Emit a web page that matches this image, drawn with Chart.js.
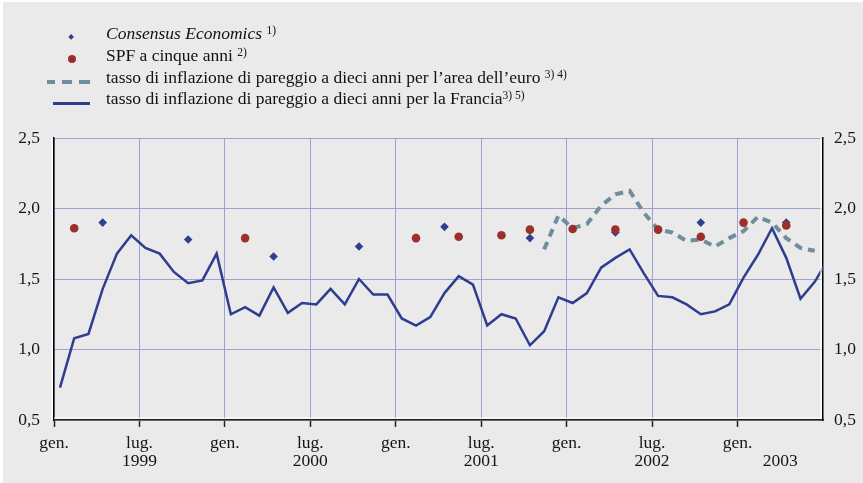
<!DOCTYPE html>
<html>
<head>
<meta charset="utf-8">
<script src="https://cdn.jsdelivr.net/npm/chart.js@4.4.0/dist/chart.umd.min.js"></script>
<style>
html,body{margin:0;padding:0;background:#fff;}
#wrap{position:relative;width:863px;height:483px;background:#eaeaea;overflow:hidden;}
#fTop{position:absolute;left:0;top:0;width:863px;height:1.5px;background:#fff;}
#fLeft{position:absolute;left:0;top:0;width:3px;height:483px;background:#fff;}
#c{position:absolute;left:0;top:0;}
.leg{position:absolute;left:106px;font-family:"Liberation Serif","Times New Roman",serif;font-size:17.5px;line-height:21.7px;color:#111;white-space:nowrap;}
.leg sup{font-size:11.5px;vertical-align:5px;line-height:0;}
.mk{position:absolute;}
</style>
</head>
<body>
<div id="wrap">
  <div id="fTop"></div><div id="fLeft"></div>
  <canvas id="c" width="863" height="483"></canvas>
  <div class="mk" style="left:69.4px;top:34.9px;width:4.3px;height:4.3px;background:#2f3f92;transform:rotate(45deg);"></div>
  <div class="mk" style="left:68px;top:55.3px;width:8px;height:8px;border-radius:50%;background:#9a3029;"></div>
  <div class="mk" style="left:47px;top:80px;width:8px;height:4px;background:#6e8e9b;"></div>
  <div class="mk" style="left:62px;top:80px;width:10px;height:4px;background:#6e8e9b;"></div>
  <div class="mk" style="left:79px;top:80px;width:11px;height:4px;background:#6e8e9b;"></div>
  <div class="mk" style="left:53px;top:102px;width:37px;height:2.6px;background:#2e3d8f;"></div>
  <div class="leg" style="top:23.3px"><i>Consensus Economics</i> <sup>1)</sup></div>
  <div class="leg" style="top:45px">SPF a cinque anni <sup>2)</sup></div>
  <div class="leg" style="top:66.7px">tasso di inflazione di pareggio a dieci anni per l’area dell’euro <sup>3) 4)</sup></div>
  <div class="leg" style="top:88.4px">tasso di inflazione di pareggio a dieci anni per la Francia<sup>3) 5)</sup></div>
</div>
<script>
// ---- DATA ----
const startYear = 1999;
// monthly values, Jan 1999 .. Jul 2003 (index = months since Jan 1999)
const franciaBreakeven = [
  0.73, 1.08, 1.11, 1.43, 1.68, 1.81, 1.72, 1.68, 1.55, 1.47, 1.49, 1.68,
  1.25, 1.30, 1.24, 1.44, 1.26, 1.33, 1.32, 1.43, 1.32, 1.50, 1.39, 1.39,
  1.22, 1.17, 1.23, 1.40, 1.52, 1.46, 1.17, 1.25, 1.22, 1.03, 1.13, 1.37,
  1.33, 1.40, 1.58, 1.65, 1.71, 1.54, 1.38, 1.37, 1.32, 1.25, 1.27, 1.32,
  1.51, 1.67, 1.86, 1.65, 1.36, 1.48, 1.65
];
const euroAreaStartMonth = 34;
const euroAreaBreakeven = [
  1.71, 1.95, 1.86, 1.89, 2.02, 2.10, 2.125, 1.97, 1.85, 1.83,
  1.77, 1.78, 1.73, 1.79, 1.84, 1.94, 1.90, 1.79, 1.72, 1.70
];
const consensusMonths = [3, 9, 15, 21, 27, 33, 39, 45, 51];
const consensusValues = [1.90, 1.78, 1.66, 1.73, 1.87, 1.79, 1.83, 1.90, 1.90];
const spfMonths = [1, 13, 25, 28, 31, 33, 36, 39, 42, 45, 48, 51];
const spfValues = [1.86, 1.79, 1.79, 1.80, 1.81, 1.85, 1.855, 1.85, 1.85, 1.80, 1.90, 1.88];
const yTicks = [0.5, 1.0, 1.5, 2.0, 2.5];
const xTickMonths = [0, 6, 12, 18, 24, 30, 36, 42, 48];
const yearLabels = ['1999', '2000', '2001', '2002', '2003'];
const yearLabelMonths = [6, 18, 30, 42, 51];
const monthNames = { 0: 'gen.', 6: 'lug.' };
const midMonth = 0.42;

// ---- CHART ----
const gridColor = '#a0a0d2';
const tickFont = { family: '"Liberation Serif", "Times New Roman", serif', size: 17.5, lineHeight: 1.0 };
const allXTicks = [...xTickMonths, ...yearLabelMonths.filter(m => !xTickMonths.includes(m))];

function xLabel(v) {
  const yi = yearLabelMonths.indexOf(v);
  const name = xTickMonths.includes(v) ? monthNames[v % 12] : '';
  if (yi >= 0) return [name, yearLabels[yi]];
  return name;
}
const fmt = v => v.toFixed(1).replace('.', ',');

const edgePlugin = {
  id: 'edges',
  afterDraw(chart) {
    const { ctx, chartArea: a } = chart;
    ctx.save();
    ctx.strokeStyle = '#ffffff';
    ctx.lineWidth = 1.2;
    ctx.beginPath();
    ctx.moveTo(a.left - 2, a.top); ctx.lineTo(a.left - 2, a.bottom);
    ctx.moveTo(a.right - 2, a.top); ctx.lineTo(a.right - 2, a.bottom - 1);
    ctx.moveTo(a.left, a.bottom - 2); ctx.lineTo(a.right - 2, a.bottom - 2);
    ctx.stroke();
    ctx.restore();
  }
};

new Chart(document.getElementById('c'), {
  data: {
    datasets: [
      {
        type: 'scatter', label: 'SPF a cinque anni',
        data: spfMonths.map((m, k) => ({ x: m + midMonth, y: spfValues[k] })),
        pointStyle: 'circle', pointRadius: 4.3, backgroundColor: '#9a3029', borderWidth: 0, order: 0
      },
      {
        type: 'scatter', label: 'Consensus Economics',
        data: consensusMonths.map((m, k) => ({ x: m + midMonth, y: consensusValues[k] })),
        pointStyle: 'rectRot', pointRadius: 4.3, backgroundColor: '#2f3f92', borderWidth: 0, order: 1
      },
      {
        type: 'line', label: 'area euro',
        data: euroAreaBreakeven.map((v, k) => ({ x: euroAreaStartMonth + k + midMonth, y: v })),
        borderColor: '#6e8e9b', borderWidth: 4, borderDash: [8, 6], pointRadius: 0, tension: 0, order: 2, clip: 0
      },
      {
        type: 'line', label: 'Francia',
        data: franciaBreakeven.map((v, k) => ({ x: k + midMonth, y: v })),
        borderColor: '#2e3d8f', borderWidth: 2.5, pointRadius: 0, tension: 0, order: 3, clip: 0
      }
    ]
  },
  options: {
    responsive: false, animation: false, devicePixelRatio: 1,
    layout: { padding: { top: 138, left: 0, right: 0, bottom: 0 } },
    plugins: { legend: { display: false }, tooltip: { enabled: false } },
    scales: {
      x: {
        type: 'linear', min: 0, max: 54,
        afterBuildTicks: s => { s.ticks = allXTicks.map(v => ({ value: v })); },
        afterFit: s => { s.height = 63; },
        ticks: { callback: v => xLabel(v), autoSkip: false, maxRotation: 0, font: tickFont, color: '#151515', padding: 8 },
        grid: {
          color: c => (c.tick && xTickMonths.includes(c.tick.value)) ? gridColor : 'rgba(0,0,0,0)',
          lineWidth: 1, drawTicks: true, tickLength: 7, tickWidth: 1.5,
          tickColor: c => (c.tick && xTickMonths.includes(c.tick.value)) ? '#222' : 'rgba(0,0,0,0)'
        },
        border: { display: true, color: '#222', width: 1.5 }
      },
      y: {
        position: 'left', min: 0.5, max: 2.5,
        afterBuildTicks: s => { s.ticks = yTicks.map(v => ({ value: v })); },
        afterFit: s => { s.width = 54; },
        ticks: { callback: v => fmt(v), font: tickFont, color: '#151515', padding: 14 },
        grid: { color: gridColor, lineWidth: 1, drawTicks: false },
        border: { display: true, color: '#000', width: 1.5 }
      },
      y2: {
        position: 'right', min: 0.5, max: 2.5,
        afterBuildTicks: s => { s.ticks = yTicks.map(v => ({ value: v })); },
        afterFit: s => { s.width = 40; },
        ticks: { callback: v => fmt(v), font: tickFont, color: '#151515', padding: 11 },
        grid: { display: false, drawTicks: false },
        border: { display: true, color: '#000', width: 1.5 }
      }
    }
  },
  plugins: [edgePlugin]
});
</script>
</body>
</html>
